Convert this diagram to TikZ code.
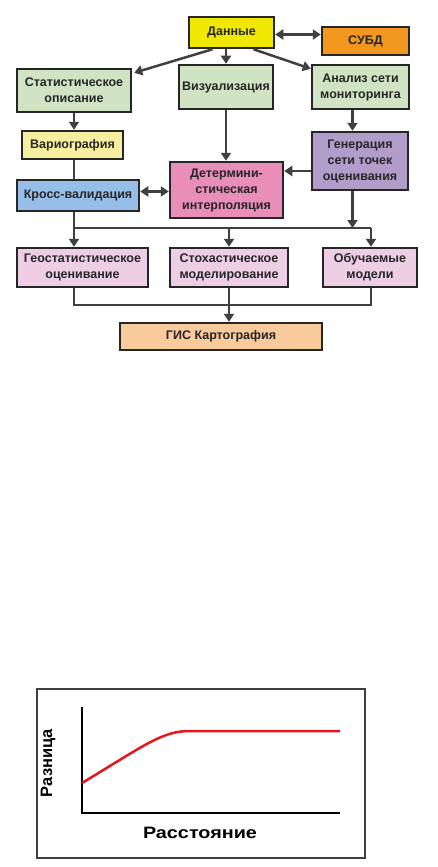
\documentclass[tikz,border=0pt]{standalone}
\usepackage{fontspec}
\setmainfont{Liberation Sans}
\usepackage{tikz}
\usetikzlibrary{positioning,arrows.meta,calc}
\definecolor{DataYellow}{RGB}{240,232,0}
\definecolor{DbmsOrange}{RGB}{243,152,30}
\definecolor{StatGreen}{RGB}{208,228,196}
\definecolor{VarioYellow}{RGB}{248,238,160}
\definecolor{CrossBlue}{RGB}{150,190,232}
\definecolor{DetPink}{RGB}{232,142,184}
\definecolor{GenPurple}{RGB}{178,156,202}
\definecolor{ModelPink}{RGB}{238,206,228}
\definecolor{GisPeach}{RGB}{248,202,156}
\definecolor{EdgeGray}{RGB}{64,64,64}
\definecolor{CurveRed}{RGB}{232,20,28}

\begin{document}
\begin{tikzpicture}[x=1pt, y=-1pt,
    box/.style={rectangle, draw=black!85, line width=2.5pt, inner sep=2pt, align=center, text=black!85,
        font=\fontsize{12.5}{16}\selectfont\bfseries},
    arr/.style={draw=EdgeGray, line width=2.5pt, -{Triangle[length=8pt,width=10pt]}},
    dblarr/.style={arr, {Triangle[length=8pt,width=10pt]}-{Triangle[length=8pt,width=10pt]}},
    line/.style={draw=EdgeGray, line width=2.5pt},
]
\useasboundingbox (0,0) rectangle (438,867);

% flow chart
\node[box, fill=DataYellow, minimum width=85pt, minimum height=31pt] (data) at (231.5,32.5) {Данные};
\node[box, fill=DbmsOrange, minimum width=87pt, minimum height=28pt] (dbms) at (365.5,41) {СУБД};
\node[box, fill=StatGreen, minimum width=114pt, minimum height=43pt] (stat) at (74,90.5) {Статистическое\\описание};
\node[box, fill=StatGreen, minimum width=94pt, minimum height=44pt] (vis) at (226,87) {Визуализация};
\node[box, fill=StatGreen, minimum width=97pt, minimum height=44pt] (net) at (360.5,87) {Анализ сети\\мониторинга};
\node[box, fill=VarioYellow, minimum width=101pt, minimum height=28pt] (vario) at (72.5,145) {Вариография};
\node[box, fill=GenPurple, minimum width=96pt, minimum height=58pt] (gen) at (360,161) {Генерация\\сети точек\\оценивания};
\node[box, fill=DetPink, minimum width=113pt, minimum height=56pt] (det) at (226.5,190) {Детермини-\\стическая\\интерполяция};
\node[box, fill=CrossBlue, minimum width=122pt, minimum height=31pt] (cross) at (78,195.5) {Кросс-валидация};
\node[box, fill=ModelPink, minimum width=131pt, minimum height=39pt] (geo) at (82.5,267.5) {Геостатистическое\\оценивание};
\node[box, fill=ModelPink, minimum width=118pt, minimum height=39pt] (stoch) at (229,267.5) {Стохастическое\\моделирование};
\node[box, fill=ModelPink, minimum width=94pt, minimum height=39pt] (learn) at (370,267.5) {Обучаемые\\модели};
\node[box, fill=GisPeach, minimum width=202pt, minimum height=27pt] (gis) at (221,336.5) {ГИС Картография};

\coordinate (netdown) at ($(net.south)+(-8,0)$);
\coordinate (busL) at (74,228);
\coordinate (busR) at (371,228);
\coordinate (lowL) at (74,305);
\coordinate (lowR) at (371,305);

\draw[dblarr] ($(data.east)+(0,2)$) -- ($(data.east -| dbms.west)+(0,2)$);
\draw[arr] ($(data.south)+(-19,0)$) -- ($(stat.north east)+(2,5)$);
\draw[arr] (vis.north |- data.south) -- (vis.north);
\draw[arr] ($(data.south)+(22,0)$) -- ($(net.north west)+(0,5)$);
\draw[arr] (stat.south) -- (stat.south |- vario.north);
\draw[line] (vario.south -| busL) -- (cross.north -| busL);
\draw[arr] (vis.south) -- (vis.south |- det.north);
\draw[arr] (netdown) -- (netdown |- gen.north);
\draw[arr] ($(gen.west)+(0,10)$) -- ($(det.east |- gen.west)+(0,10)$);
\draw[dblarr] ($(cross.east)+(0,-4)$) -- ($(cross.east -| det.west)+(0,-4)$);
\draw[line] (cross.south -| busL) -- (busL) -- (busR);
\draw[arr] (netdown |- gen.south) -- (netdown |- busL);
\draw[arr] (busL) -- (busL |- geo.north);
\draw[arr] (stoch.north |- busL) -- (stoch.north);
\draw[arr] (busR) -- (busR |- learn.north);
\draw[line] (geo.south -| lowL) -- (lowL) -- (lowR) -- (learn.south -| lowR);
\draw[line] (stoch.south) -- (stoch.south |- lowL);
\draw[arr] (stoch.south |- lowL) -- (stoch.south |- gis.north);

% variogram sketch
\draw[EdgeGray, line width=2.5pt] (37,689) rectangle (365,858);
\draw[black, line width=2pt] (82,707) -- (82,813) -- (340,813);
\draw[CurveRed, line width=2.5pt] (82,783) .. controls (145,745) and (162,731) .. (190,731) -- (340,731);
\node[rotate=90, font=\fontsize{16.5}{16}\selectfont\bfseries] (ylab) at (48,763) {Разница};
\node[xscale=1.2, font=\fontsize{16.5}{16}\selectfont\bfseries] (xlab) at (200,833) {Расстояние};
\end{tikzpicture}
\end{document}
